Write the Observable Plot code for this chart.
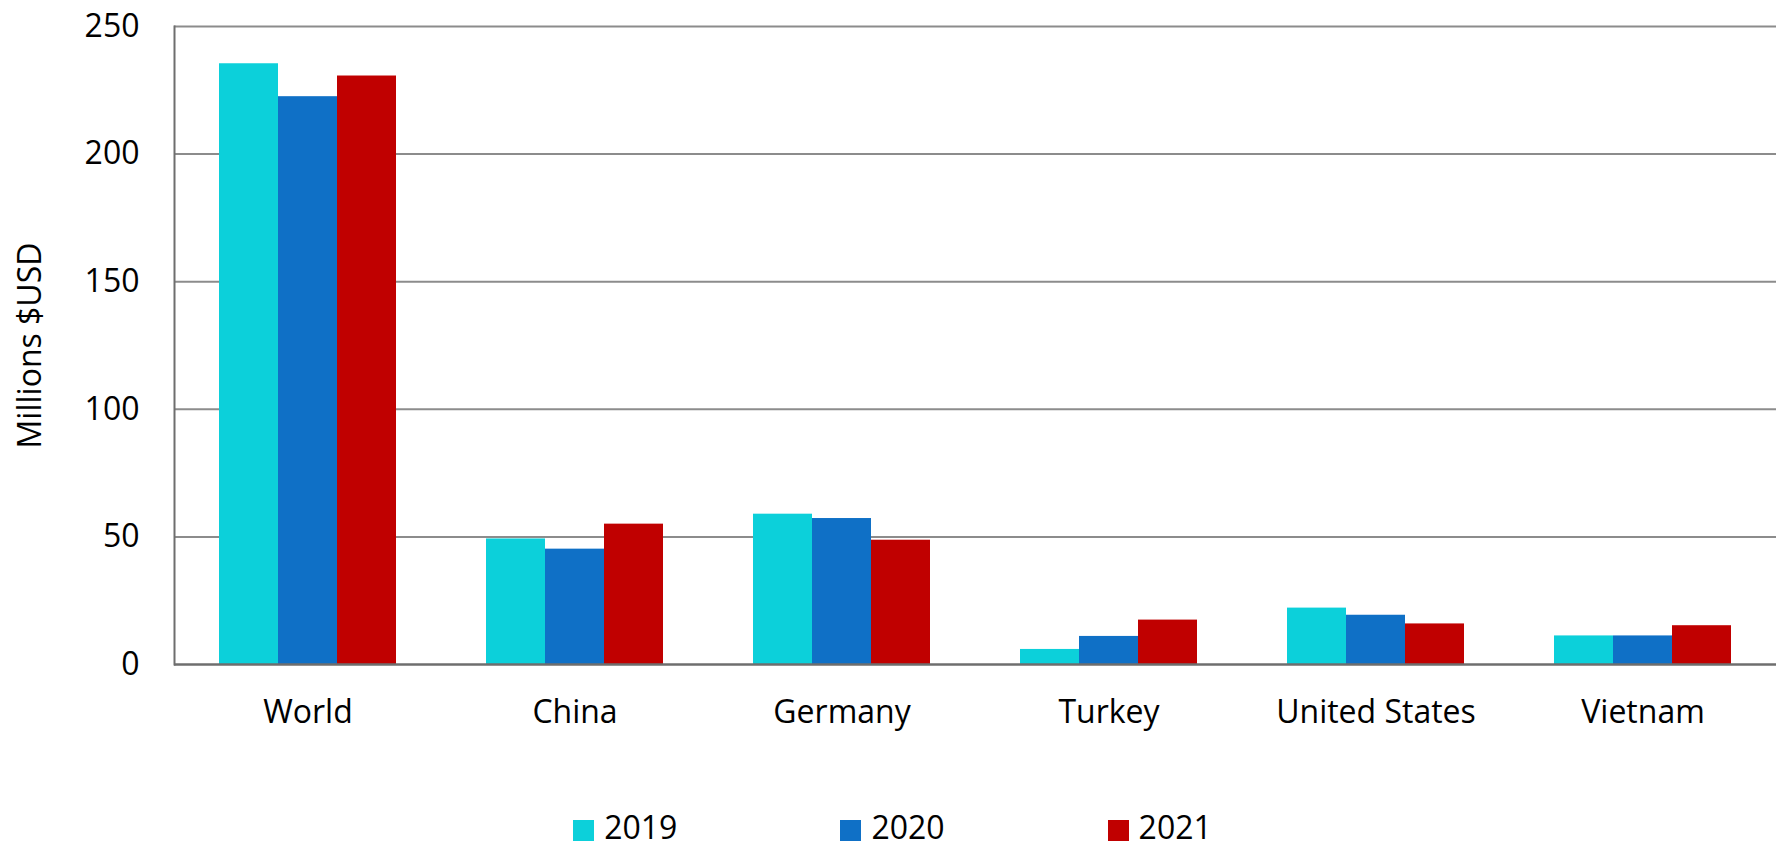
<!DOCTYPE html>
<html><head><meta charset="utf-8">
<script src="https://cdn.jsdelivr.net/npm/d3@7"></script>
<script src="https://cdn.jsdelivr.net/npm/@observablehq/plot@0.6"></script>
<style>
body{margin:0;background:#fff;font-family:"Open Sans",sans-serif;}
#wrap{position:relative;width:1785px;height:846px;}
#legend{position:absolute;left:0;top:813px;width:1785px;display:flex;justify-content:center;gap:163px;}
.item{display:flex;align-items:flex-start;}
.sw{width:21px;height:21px;margin-top:7px;margin-right:10px;}
.lab{display:block;font-size:32px;line-height:28px;height:28px;color:#000;}
</style></head><body><div id="wrap"></div>
<script>
const countries = ["World","China","Germany","Turkey","United States","Vietnam"];
const years = ["2019","2020","2021"];
const v2019 = [235.4, 49.2, 58.9, 5.9, 22.1, 11.2];
const v2020 = [222.5, 45.2, 57.2, 11.0, 19.3, 11.2];
const v2021 = [230.6, 55.0, 48.7, 17.4, 15.9, 15.2];
const colors = ["#0cd0da","#0f70c6","#c00000"];
const yTicks = [0,50,100,150,200,250];
const gridTicks = [50,100,150,200,250];
const yLabel = "Millions $USD";

const series = [v2019, v2020, v2021];
const data = [];
countries.forEach((c,i)=>years.forEach((y,j)=>data.push({country:c, year:y, value:series[j][i]})));

const plot = Plot.plot({
  width:1785, height:780,
  marginLeft:173, marginRight:8, marginTop:26, marginBottom:116,
  style:{fontFamily:'"Open Sans", sans-serif', fontSize:"32px", color:"#000", background:"#fff"},
  fx:{domain:countries, padding:0, label:null},
  x:{domain:years, paddingInner:0, paddingOuter:0.752, axis:null},
  y:{domain:[0,250], label:null},
  color:{domain:years, range:colors},
  marks:[
    Plot.ruleY(gridTicks,{stroke:"#8c8c8c", strokeWidth:2}),
    Plot.barY(data,{fx:"country", x:"year", y:"value", fill:"year"}),
    Plot.ruleY([0],{stroke:"#6e6e6e", strokeWidth:2.5}),
    Plot.frame({anchor:"left", facetAnchor:"left", stroke:"#6e6e6e", strokeWidth:2}),
    Plot.axisY({ticks:yTicks, tickSize:0, tickPadding:35, fill:"#000", fontSize:32, label:null}),
    Plot.axisY({ticks:[], tickSize:0, fill:"#000", fontSize:32, label:yLabel, labelArrow:"none", labelAnchor:"center", labelOffset:156}),
    Plot.axisFx({anchor:"bottom", tickSize:0, tickPadding:36, fontSize:32, fill:"#000", label:null})
  ]
});
const wrap = document.getElementById("wrap");
wrap.appendChild(plot);
const legend = document.createElement("div");
legend.id = "legend";
years.forEach((y,j)=>{
  const it = document.createElement("div"); it.className="item";
  const sw = document.createElement("div"); sw.className="sw"; sw.style.background=colors[j];
  const lb = document.createElement("div"); lb.className="lab"; lb.textContent=y;
  it.appendChild(sw); it.appendChild(lb); legend.appendChild(it);
});
wrap.appendChild(legend);
</script></body></html>
